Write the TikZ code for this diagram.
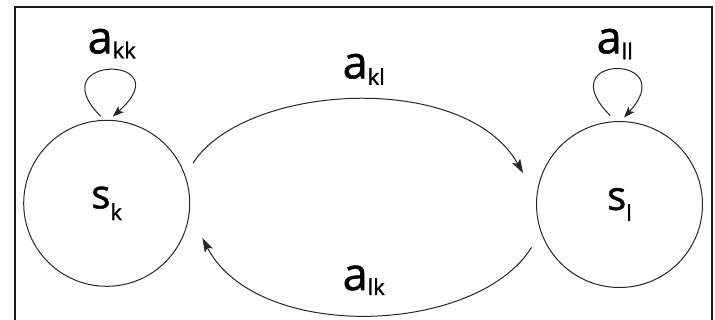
\documentclass[tikz,border=0pt]{standalone}
\usepackage{fontspec}
\setmainfont{Open Sans}[FakeBold=1.2]
\usetikzlibrary{arrows.meta,calc}
\newcommand\subtxt[2]{\raisebox{-#1}{\fontsize{22}{22}\selectfont #2}}
\begin{document}
\begin{tikzpicture}[x=1pt,y=-1pt,
  state/.style={circle, draw=black!85, line width=1pt, minimum size=166pt, inner sep=0pt, font=\fontsize{40}{40}\selectfont},
  edgeline/.style={draw=black!85, line width=1pt, -{Stealth[length=14pt,width=9pt,inset=3pt]}},
  loopline/.style={draw=black!85, line width=1pt, -{Stealth[length=11pt,width=8pt,inset=2.5pt]}},
  lbl/.style={anchor=base west, inner sep=0pt, font=\fontsize{45}{45}\selectfont}]
\useasboundingbox (0,0) rectangle (715,320);
\draw[line width=2.5pt, black!90] (15,7) rectangle (712,335);
\node[state] (sk) at (106.7,203.3) {s\subtxt{11.7pt}{k}};
\node[state] (sl) at (619.5,204.5) {s\subtxt{11pt}{l}};
\node[lbl] (akk) at (87.5,53.3) {a\subtxt{5pt}{kk}};
\node[lbl] (all) at (596.5,53.3) {a\subtxt{6pt}{ll}};
\node[lbl] (akl) at (342.5,78.3) {a\subtxt{6.5pt}{kl}};
\node[lbl] (alk) at (342.5,290) {a\subtxt{5pt}{lk}};
\draw[loopline] ($(sk.center)!87.3pt!(sk.94.6)$) .. controls +(-62,-62) and +(70,-62) .. ($(sk.center)!87pt!(sk.86)$);
\draw[loopline] ($(sl.center)!89.5pt!(sl.96.1)$) .. controls +(-62,-62) and +(58,-64) .. ($(sl.center)!87.1pt!(sl.87)$);
\draw[edgeline] ($(sk.center)!95.3pt!(sk.25.5)$) .. controls +(52,-80) and +(-58,-103) .. ($(sl.center)!101.4pt!(sl.162.2)$);
\draw[edgeline] ($(sl.center)!97.9pt!(sl.206.7)$) .. controls +(-55,88) and +(55,105) .. ($(sk.center)!101.8pt!(sk.340.5)$);
\end{tikzpicture}
\end{document}
